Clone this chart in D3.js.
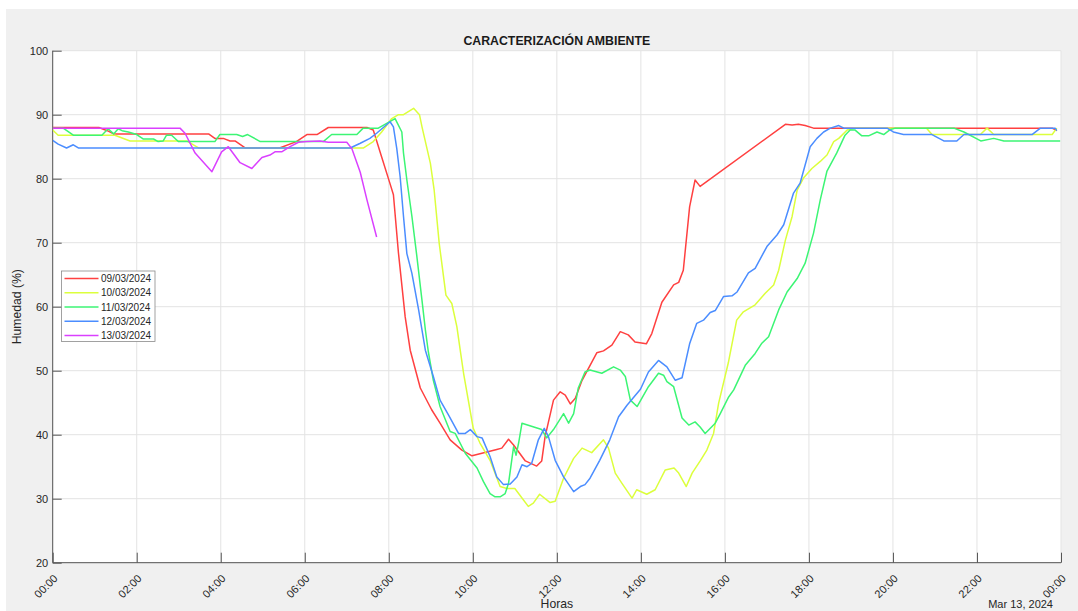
<!DOCTYPE html>
<html>
<head>
<meta charset="utf-8">
<script src="https://cdn.jsdelivr.net/npm/d3@7"></script>
<style>
html,body{margin:0;padding:0;background:#fff;}
svg{display:block;font-family:"Liberation Sans",Arial,Helvetica,sans-serif;}
</style>
</head>
<body>
<svg id="chart" width="1078" height="611"></svg>
<script>
// ---------- DATA ----------
const seriesNames = ["09/03/2024", "10/03/2024", "11/03/2024", "12/03/2024", "13/03/2024"];
const seriesColors = ["#ff4040", "#dcff3c", "#3cf574", "#4b8dff", "#da40ff"];
const xTickHours = [0, 2, 4, 6, 8, 10, 12, 14, 16, 18, 20, 22, 24];
const xTickLabels = ["00:00","02:00","04:00","06:00","08:00","10:00","12:00","14:00","16:00","18:00","20:00","22:00","00:00"];
const yTicks = [20, 30, 40, 50, 60, 70, 80, 90, 100];

const hours09 = [0.00,1.10,1.30,1.45,3.71,3.86,4.06,4.22,4.34,4.58,5.40,5.80,6.05,6.29,6.56,7.48,7.63,7.83,8.04,8.11,8.23,8.39,8.51,8.75,9.02,9.22,9.46,9.74,9.98,10.57,10.69,10.85,10.97,11.25,11.52,11.64,11.72,11.92,12.08,12.20,12.32,12.44,12.60,12.95,13.11,13.31,13.51,13.70,13.86,14.13,14.26,14.50,14.78,14.90,15.01,15.16,15.29,15.41,17.44,17.60,17.75,17.91,18.11,23.79,23.90];
const hum09   = [88.0,88.0,87.5,87.0,87.0,86.3,86.3,85.9,85.9,84.8,84.8,85.8,86.9,86.9,88.0,88.0,87.6,83.4,79.0,77.5,68.4,58.4,53.2,47.3,43.9,41.8,39.2,37.6,36.7,37.7,37.9,39.3,38.4,35.9,35.1,35.9,39.7,45.4,46.7,46.2,44.8,45.7,48.5,52.8,53.1,54.0,56.1,55.6,54.5,54.2,55.8,60.7,63.4,63.8,65.7,75.6,79.8,78.8,88.5,88.4,88.5,88.3,87.9,87.9,87.5];

const hours10 = [0.00,0.13,1.48,1.84,3.19,3.47,7.40,7.63,7.83,8.07,8.23,8.35,8.59,8.73,8.79,8.99,9.08,9.20,9.36,9.50,9.62,9.70,9.78,10.01,10.17,10.41,10.65,10.81,11.00,11.17,11.32,11.44,11.59,11.84,11.96,12.16,12.40,12.60,12.83,13.11,13.23,13.39,13.55,13.79,13.90,14.14,14.34,14.58,14.79,14.90,15.08,15.22,15.42,15.57,15.73,15.85,16.08,16.28,16.44,16.72,16.96,17.16,17.28,17.44,17.60,17.72,17.87,18.07,18.27,18.43,18.59,18.71,18.91,19.10,20.80,20.93,22.08,22.24,22.40,23.79,23.90];
const hum10   = [87.6,86.8,86.8,85.9,85.9,84.8,84.8,85.8,87.3,89.4,90.0,90.0,91.0,90.0,88.1,82.4,78.2,69.9,61.8,60.5,56.9,53.2,49.6,41.0,38.7,36.0,31.9,31.6,31.6,30.1,28.8,29.3,30.7,29.4,29.6,33.2,36.3,37.9,37.2,39.2,37.9,34.0,32.4,30.1,31.4,30.7,31.4,34.5,34.8,34.0,31.9,34.0,36.0,37.6,40.2,44.9,51.2,57.9,59.2,60.3,62.1,63.4,65.7,70.4,74.1,78.2,80.1,81.6,82.7,83.7,85.8,86.3,87.6,87.9,87.9,86.9,86.9,87.9,86.9,86.9,87.9];

const hours11 = [0.00,0.25,0.49,1.17,1.32,1.45,1.56,1.65,1.80,2.00,2.16,2.40,2.51,2.63,2.71,2.83,2.99,3.86,3.98,4.38,4.52,4.64,4.94,6.44,6.64,7.24,7.39,7.75,8.15,8.31,8.35,8.43,8.55,8.66,8.79,8.87,8.94,9.06,9.22,9.46,9.58,9.82,10.10,10.25,10.41,10.53,10.65,10.77,10.85,10.97,11.03,11.09,11.17,11.64,11.76,11.92,12.16,12.28,12.40,12.51,12.67,12.79,13.07,13.35,13.51,13.63,13.75,13.91,14.18,14.42,14.54,14.62,14.78,14.98,15.14,15.29,15.41,15.53,15.77,15.89,16.09,16.21,16.49,16.72,16.88,17.04,17.28,17.48,17.72,17.91,18.11,18.27,18.43,18.66,18.86,18.98,19.10,19.26,19.42,19.62,19.78,19.94,20.06,21.45,21.69,22.09,22.40,22.64,23.98];
const hum11   = [87.9,87.9,86.8,86.8,87.8,87.0,87.8,87.5,87.3,86.9,86.2,86.2,85.8,85.9,86.8,86.8,85.8,85.8,86.9,86.9,86.6,86.9,85.8,85.8,86.9,86.9,87.9,87.9,89.4,87.3,84.0,79.8,74.1,68.3,61.0,56.4,53.0,48.5,44.4,40.5,40.2,37.1,34.8,32.7,30.8,30.3,30.3,30.8,32.4,38.1,36.8,38.7,41.8,40.8,39.5,40.8,43.3,41.8,43.3,47.3,49.8,50.1,49.6,50.6,50.1,49.1,45.4,44.4,47.5,49.6,49.3,48.3,47.5,42.6,41.5,42.0,41.2,40.2,41.8,43.3,45.9,47.0,50.9,52.7,54.3,55.3,59.5,62.3,64.4,66.8,71.5,76.7,81.2,84.0,86.8,87.6,87.6,86.7,86.7,87.3,86.9,87.7,87.9,87.9,87.3,85.9,86.3,85.9,85.9];

const hours12 = [0.00,0.13,0.33,0.49,0.61,7.08,7.31,7.55,7.71,8.03,8.11,8.19,8.27,8.35,8.43,8.55,8.71,8.87,9.06,9.22,9.42,9.66,9.82,9.94,10.10,10.22,10.41,10.57,10.73,10.89,11.05,11.17,11.29,11.40,11.56,11.70,11.80,11.96,12.16,12.40,12.56,12.67,12.79,13.02,13.26,13.47,13.67,13.99,14.18,14.42,14.62,14.82,14.98,15.16,15.33,15.49,15.65,15.77,15.97,16.17,16.29,16.56,16.72,17.00,17.24,17.40,17.63,17.79,18.03,18.19,18.35,18.51,18.71,18.83,19.86,20.01,20.25,20.93,21.21,21.52,21.69,23.31,23.51,23.86,23.90];
const hum12   = [86.0,85.4,84.8,85.3,84.8,84.8,85.5,86.3,87.1,88.9,88.1,84.7,80.3,74.1,68.3,65.2,59.5,53.2,49.1,45.4,43.1,40.2,40.2,40.8,39.7,39.5,36.6,33.4,32.2,32.3,33.4,35.3,35.0,35.5,39.2,41.0,39.7,36.0,33.4,31.1,31.9,32.2,33.2,36.0,39.2,42.8,44.6,47.1,49.8,51.6,50.6,48.5,48.9,54.2,57.4,57.9,59.1,59.4,61.6,61.7,62.3,65.3,66.0,69.4,71.2,72.8,77.7,79.3,85.0,86.3,87.3,87.9,88.3,87.9,87.9,87.3,86.9,86.9,85.9,85.9,86.9,86.9,87.9,87.9,87.5];

const hours13 = [0.00,3.03,3.15,3.39,3.79,4.02,4.18,4.46,4.74,4.98,5.17,5.29,5.45,5.65,5.85,6.05,6.36,6.56,7.00,7.12,7.32,7.48,7.71];
const hum13   = [87.9,87.9,87.1,84.0,81.1,84.2,85.0,82.5,81.6,83.3,83.7,84.2,84.2,85.0,85.7,85.8,85.9,85.7,85.7,84.7,81.0,76.7,70.9];

const allHours = [hours09, hours10, hours11, hours12, hours13];
const allHum = [hum09, hum10, hum11, hum12, hum13];

// ---------- LAYOUT ----------
const W = 1078, H = 611;
const L = 52.7, R = 1061, T = 50.7, B = 562.7;
const svg = d3.select("#chart");

svg.append("rect").attr("x", 6).attr("y", 9).attr("width", W - 6).attr("height", H - 9).attr("fill", "#f0f0f0");
svg.append("rect").attr("x", L).attr("y", T).attr("width", R - L).attr("height", B - T).attr("fill", "#ffffff");

const x = d3.scaleLinear().domain([0, 24]).range([L, R]);
const y = d3.scaleLinear().domain([20, 100]).range([B, T]);

// grid
const grid = svg.append("g");
grid.selectAll("line.gx").data(xTickHours).join("line")
  .attr("x1", d => x(d)).attr("x2", d => x(d)).attr("y1", T).attr("y2", B)
  .attr("stroke", "#e3e3e3").attr("stroke-width", 1);
grid.selectAll("line.gy").data(yTicks).join("line")
  .attr("x1", L).attr("x2", R).attr("y1", d => y(d)).attr("y2", d => y(d))
  .attr("stroke", "#e3e3e3").attr("stroke-width", 1);

// axes
const xAxis = d3.axisBottom(x).tickValues(xTickHours).tickSize(-10).tickPadding(0).tickFormat("");
const gx = svg.append("g").attr("transform", `translate(0,${B})`).call(xAxis);
gx.select(".domain").attr("stroke", "#555").attr("d", `M${L},0H${R}`);
gx.selectAll(".tick line").attr("stroke", "#555");

const yAxis = d3.axisLeft(y).tickValues(yTicks).tickSize(-9).tickPadding(0).tickFormat("");
const gy = svg.append("g").attr("transform", `translate(${L},0)`).call(yAxis);
gy.select(".domain").attr("stroke", "#555").attr("d", `M0,${B}V${T}`);
gy.selectAll(".tick line").attr("stroke", "#555");

// tick labels
svg.append("g").selectAll("text").data(yTicks).join("text")
  .attr("x", L - 4.5).attr("y", d => y(d) + 4)
  .attr("text-anchor", "end").attr("font-size", 11).attr("fill", "#262626")
  .text(d => d);

svg.append("g").selectAll("text").data(xTickHours).join("text")
  .attr("transform", d => `translate(${x(d) + 5.6},${B + 16.5}) rotate(-45)`)
  .attr("text-anchor", "end").attr("font-size", 11).attr("fill", "#262626")
  .text((d, i) => xTickLabels[i]);

// titles
svg.append("text").attr("x", (L + R) / 2).attr("y", 45).attr("text-anchor", "middle")
  .attr("font-size", 12.3).attr("font-weight", "bold").attr("fill", "#1a1a1a")
  .text("CARACTERIZACIÓN AMBIENTE");
svg.append("text").attr("transform", `translate(21,${(T + B) / 2}) rotate(-90)`)
  .attr("text-anchor", "middle").attr("font-size", 12.2).attr("fill", "#262626")
  .text("Humedad (%)");
svg.append("text").attr("x", (L + R) / 2).attr("y", 607.5).attr("text-anchor", "middle")
  .attr("font-size", 12.2).attr("fill", "#262626").text("Horas");
svg.append("text").attr("x", 1053).attr("y", 608).attr("text-anchor", "end")
  .attr("font-size", 11).attr("fill", "#262626").text("Mar 13, 2024");

// lines
svg.append("clipPath").attr("id", "clip").append("rect")
  .attr("x", L).attr("y", T).attr("width", R - L).attr("height", B - T);
const line = d3.line().x(d => x(d[0])).y(d => y(d[1]));
const lg = svg.append("g").attr("clip-path", "url(#clip)");
allHours.forEach((hs, i) => {
  const pts = hs.map((h, j) => [h, allHum[i][j]]);
  lg.append("path").datum(pts).attr("d", line)
    .attr("fill", "none").attr("stroke", seriesColors[i]).attr("stroke-width", 1.5)
    .attr("stroke-linejoin", "round");
});

// legend
const leg = svg.append("g");
leg.append("rect").attr("x", 61.5).attr("y", 271).attr("width", 93.5).attr("height", 70.5)
  .attr("fill", "#fff").attr("stroke", "#8a8a8a").attr("stroke-width", 0.8);
const legY = d3.scalePoint().domain(seriesNames).range([278.5, 335.5]);
seriesNames.forEach((n, i) => {
  leg.append("line").attr("x1", 64.5).attr("x2", 98.5).attr("y1", legY(n)).attr("y2", legY(n))
    .attr("stroke", seriesColors[i]).attr("stroke-width", 1.5);
  leg.append("text").attr("x", 101).attr("y", legY(n) + 3.6).attr("font-size", 10)
    .attr("fill", "#262626").text(n);
});
</script>
</body>
</html>
